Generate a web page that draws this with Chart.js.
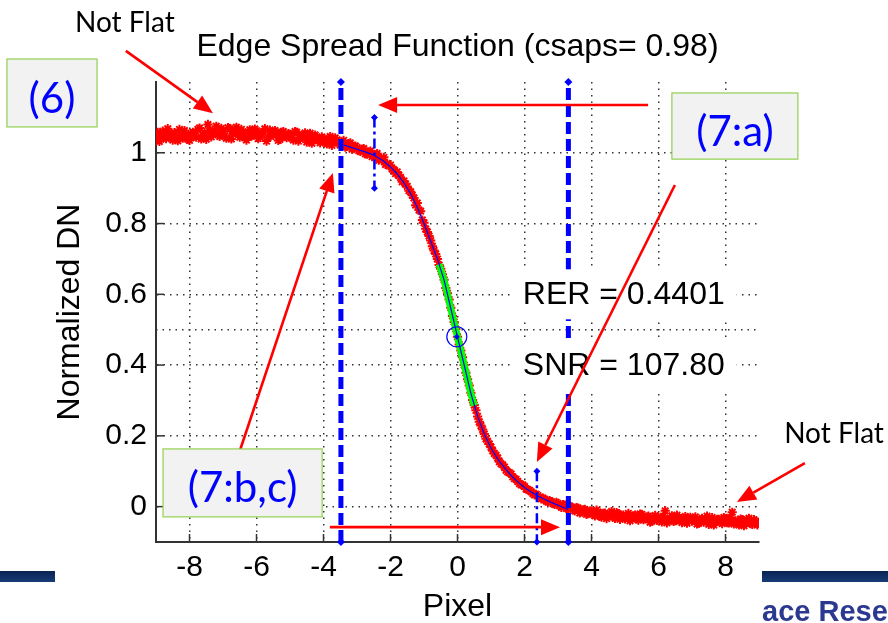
<!DOCTYPE html>
<html>
<head>
<meta charset="utf-8">
<title>Edge Spread Function</title>
<script src="https://cdn.jsdelivr.net/npm/chart.js@4.4.0/dist/chart.umd.min.js"></script>
<style>
  body { margin: 0; background: #fff; overflow: hidden; }
  #quadro { position: relative; width: 888px; height: 623px; }
  #grafico { display: block; }
  .faixa { position: absolute; top: 571px; height: 11px; background: linear-gradient(#0a2452, #173b75); }
  #rodape { position: absolute; left: 762px; top: 597px; width: 126px; overflow: hidden; white-space: nowrap;
            font: bold 29px 'Liberation Sans', Arial, sans-serif; line-height: 29px; color: #2b3990; }
</style>
</head>
<body>
<div id="quadro">
  <canvas id="grafico" width="888" height="623"></canvas>
  <div class="faixa" style="left:0;width:55px"></div>
  <div class="faixa" style="left:762px;width:126px"></div>
  <div id="rodape">ace Research</div>
</div>
<script>
// eixos
const xTicks = [-8, -6, -4, -2, 0, 2, 4, 6, 8];
const yTicks = [0, 0.2, 0.4, 0.6, 0.8, 1];
const xMin = -9, xMax = 9, yMin = -0.1, yMax = 1.2;

// pontos da ESF (duas linhas de amostras, passo 0.1)
const esfInicioA = -9, esfInicioB = -8.95, esfPasso = 0.1;
const esfA = [
  1.048, 1.032, 1.061, 1.040, 1.055, 1.036, 1.047, 1.066, 1.041, 1.052,
  1.035, 1.058, 1.044, 1.070, 1.049, 1.038, 1.062, 1.051, 1.075, 1.046,
  1.060, 1.041, 1.068, 1.053, 1.072, 1.044, 1.058, 1.036, 1.065, 1.050,
  1.062, 1.045, 1.057, 1.033, 1.064, 1.049, 1.055, 1.038, 1.060, 1.043,
  1.052, 1.036, 1.058, 1.041, 1.047, 1.030, 1.055, 1.038, 1.044, 1.028,
  1.040, 1.025, 1.046, 1.031, 1.037, 1.022, 1.035, 1.018, 1.028, 1.014,
  1.015, 1.004, 1.012, 0.996, 1.005, 0.992, 0.998, 0.984, 0.987, 0.970,
  0.965, 0.952, 0.946, 0.930, 0.920, 0.905, 0.890, 0.872, 0.858, 0.835,
  0.802, 0.776, 0.752, 0.724, 0.700, 0.672, 0.641, 0.603, 0.562, 0.522,
  0.480, 0.441, 0.400, 0.360, 0.322, 0.287, 0.255, 0.229, 0.205, 0.184,
  0.168, 0.150, 0.137, 0.121, 0.112, 0.098, 0.092, 0.079, 0.071, 0.062,
  0.057, 0.048, 0.042, 0.033, 0.031, 0.022, 0.021, 0.013, 0.014, 0.006,
  0.009, -0.002, 0.004, -0.006, -0.001, -0.012, -0.004, -0.015, -0.008, -0.020,
  -0.012, -0.026, -0.015, -0.030, -0.018, -0.028, -0.014, -0.033, -0.020, -0.027,
  -0.035, -0.019, -0.031, -0.024, -0.038, -0.022, -0.034, -0.027, -0.041, -0.025,
  -0.030, -0.043, -0.012, -0.037, -0.026, -0.040, -0.031, -0.045, -0.028, -0.036,
  -0.041, -0.029, -0.047, -0.033, -0.038, -0.050, -0.031, -0.044, -0.036, -0.048,
  -0.034, -0.046, -0.016, -0.040, -0.052, -0.037, -0.045, -0.033, -0.050, -0.041,
  -0.047
];
const esfB = [
  1.058, 1.039, 1.050, 1.068, 1.043, 1.057, 1.034, 1.049, 1.063, 1.038,
  1.054, 1.047, 1.066, 1.039, 1.057, 1.080, 1.045, 1.063, 1.052, 1.069,
  1.048, 1.071, 1.039, 1.062, 1.054, 1.066, 1.042, 1.059, 1.047, 1.067,
  1.040, 1.054, 1.068, 1.044, 1.052, 1.063, 1.035, 1.058, 1.046, 1.054,
  1.041, 1.060, 1.033, 1.049, 1.056, 1.039, 1.027, 1.050, 1.034, 1.045,
  1.030, 1.038, 1.021, 1.042, 1.027, 1.030, 1.016, 1.026, 1.010, 1.019,
  1.006, 1.010, 0.997, 1.002, 0.989, 0.994, 0.979, 0.980, 0.967, 0.963,
  0.954, 0.941, 0.936, 0.918, 0.911, 0.893, 0.880, 0.852, 0.838, 0.810,
  0.785, 0.765, 0.736, 0.714, 0.683, 0.657, 0.618, 0.585, 0.539, 0.502,
  0.458, 0.422, 0.378, 0.342, 0.301, 0.272, 0.240, 0.218, 0.192, 0.177,
  0.158, 0.145, 0.127, 0.118, 0.103, 0.096, 0.084, 0.077, 0.065, 0.061,
  0.050, 0.046, 0.037, 0.035, 0.026, 0.024, 0.016, 0.017, 0.009, 0.012,
  0.002, 0.006, -0.005, 0.001, -0.009, -0.003, -0.018, -0.009, -0.022, -0.013,
  -0.021, -0.010, -0.027, -0.019, -0.034, -0.022, -0.029, -0.017, -0.036, -0.024,
  -0.028, -0.040, -0.026, -0.035, -0.021, -0.037, -0.029, -0.044, -0.032, -0.039,
  -0.038, -0.027, -0.046, -0.033, -0.042, -0.024, -0.039, -0.034, -0.047, -0.030,
  -0.035, -0.049, -0.038, -0.044, -0.027, -0.042, -0.052, -0.036, -0.043, -0.031,
  -0.045, -0.031, -0.049, -0.044, -0.035, -0.054, -0.039, -0.048, -0.037, -0.052
];

// curva ajustada (csaps)
const ajusteX = [-3.4, -3.2, -3.0, -2.8, -2.6, -2.4, -2.2, -2.0, -1.8, -1.6, -1.4, -1.2, -1.0, -0.8, -0.6, -0.4, -0.2, 0,
                 0.2, 0.4, 0.6, 0.8, 1.0, 1.2, 1.4, 1.6, 1.8, 2.0, 2.2, 2.4, 2.6, 2.8, 3.0, 3.2, 3.3];
const ajusteY = [1.022, 1.016, 1.010, 1.004, 0.997, 0.988, 0.976, 0.960, 0.940, 0.915, 0.885, 0.845, 0.800, 0.750, 0.700, 0.640, 0.560, 0.480,
                 0.400, 0.320, 0.255, 0.205, 0.165, 0.135, 0.110, 0.088, 0.070, 0.054, 0.041, 0.030, 0.021, 0.012, 0.004, -0.004, -0.008];

// trecho verde (regiao usada no RER)
const verdeX = [-0.55, -0.4, -0.2, 0, 0.2, 0.4, 0.5];
const verdeY = [0.685, 0.64, 0.56, 0.48, 0.40, 0.32, 0.285];

// linhas verticais
const limitesX = [-3.48, 3.31];
const limitesY = [-0.1, 1.2];
const marcasX = [-2.48, 2.37];
const marcasTopo = [1.1, 0.1];
const marcasBase = [0.9, -0.1];
const centroX = [-0.02];
const centroY = [0.48];
const meioY = 0.5;

// textos e anotacoes (em unidades do grafico)
const estatTextos = ['RER = 0.4401', 'SNR = 107.80'];
const estatX = 1.95;
const estatY = [0.6, 0.4];

const caixaTextos = ['(6)', '(7:a)', '(7:b,c)'];
const caixaX0 = [-13.45, 6.40, -8.79];
const caixaX1 = [-10.76, 10.16, -4.04];
const caixaY0 = [1.265, 1.169, 0.163];
const caixaY1 = [1.073, 0.982, -0.029];

const notaTextos = ['Not Flat', 'Not Flat'];
const notaX = [-9.93, 11.24];
const notaY = [1.367, 0.205];

const setas = [
  [-9.90, 1.288, -7.30, 1.112],
  [5.69, 1.135, -2.37, 1.135],
  [-6.49, 0.160, -3.72, 0.943],
  [6.49, 0.909, 2.37, 0.126],
  [10.37, 0.123, 8.34, 0.013],
  [-3.81, -0.058, 3.06, -0.058]
];

function pontos(inicio, valores) {
  return valores.map((v, i) => ({ x: Math.round((inicio + esfPasso * i) * 100) / 100, y: v }));
}
function pares(xs, ys) {
  return xs.map((v, i) => ({ x: v, y: ys[i] }));
}

function seta(ctx, x1, y1, x2, y2) {
  const ang = Math.atan2(y2 - y1, x2 - x1);
  const comp = 19, larg = 8;
  const bx = x2 - comp * Math.cos(ang), by = y2 - comp * Math.sin(ang);
  ctx.strokeStyle = '#ff0000';
  ctx.fillStyle = '#ff0000';
  ctx.lineWidth = 2.6;
  ctx.beginPath(); ctx.moveTo(x1, y1); ctx.lineTo(bx, by); ctx.stroke();
  ctx.beginPath();
  ctx.moveTo(x2, y2);
  ctx.lineTo(bx + larg * Math.sin(ang), by - larg * Math.cos(ang));
  ctx.lineTo(bx - larg * Math.sin(ang), by + larg * Math.cos(ang));
  ctx.closePath(); ctx.fill();
}

const anotacoes = {
  id: 'anotacoes',
  afterDraw(chart) {
    const ctx = chart.ctx;
    const sx = chart.scales.x, sy = chart.scales.y;
    const px = v => sx.getPixelForValue(v);
    const py = v => sy.getPixelForValue(v);
    const area = chart.chartArea;
    ctx.save();
    ctx.setLineDash([]);

    // ticks para dentro (estilo MATLAB)
    ctx.strokeStyle = '#333';
    ctx.lineWidth = 1.5;
    xTicks.forEach(v => { ctx.beginPath(); ctx.moveTo(px(v), area.bottom); ctx.lineTo(px(v), area.bottom - 8); ctx.stroke(); });
    yTicks.forEach(v => { ctx.beginPath(); ctx.moveTo(area.left, py(v)); ctx.lineTo(area.left + 8, py(v)); ctx.stroke(); });

    // RER / SNR com fundo branco
    ctx.font = '32px "Liberation Sans", Arial, sans-serif';
    ctx.textBaseline = 'middle';
    ctx.textAlign = 'left';
    estatTextos.forEach((t, i) => {
      const w = ctx.measureText(t).width;
      const x0 = px(estatX), y0 = py(estatY[i]);
      ctx.fillStyle = '#fff';
      ctx.fillRect(x0 - 10, y0 - 25, w + 22, 50);
      ctx.fillStyle = '#000';
      ctx.fillText(t, x0, y0 + 1);
    });

    // setas vermelhas
    setas.forEach(s => seta(ctx, px(s[0]), py(s[1]), px(s[2]), py(s[3])));

    // caixas numeradas
    caixaTextos.forEach((t, i) => {
      const x0 = px(caixaX0[i]), x1 = px(caixaX1[i]);
      const y0 = py(caixaY0[i]), y1 = py(caixaY1[i]);
      ctx.fillStyle = '#f2f2f2';
      ctx.fillRect(x0, y0, x1 - x0, y1 - y0);
      ctx.strokeStyle = '#92d050';
      ctx.lineWidth = 1.2;
      ctx.strokeRect(x0, y0, x1 - x0, y1 - y0);
      ctx.fillStyle = '#0000ff';
      ctx.font = '42px Lato, "Open Sans", sans-serif';
      ctx.textAlign = 'center';
      ctx.fillText(t, (x0 + x1) / 2, (y0 + y1) / 2 + 6);
    });

    // "Not Flat"
    ctx.fillStyle = '#000';
    ctx.font = '28px Lato, "Open Sans", sans-serif';
    ctx.textAlign = 'center';
    notaTextos.forEach((t, i) => ctx.fillText(t, px(notaX[i]), py(notaY[i])));

    ctx.restore();
  }
};

const fonteEixo = { family: '"Liberation Sans", Arial, sans-serif', size: 30 };
const fonteTitulo = { family: '"Liberation Sans", Arial, sans-serif', size: 32, weight: 'normal' };

const datasets = [
  // limites grossos tracejados
  ...limitesX.map(v => ({
    data: pares([v, v], limitesY), showLine: true, borderColor: '#0000ff', borderWidth: 5, borderDash: [12, 5],
    pointStyle: 'rectRot', pointRadius: 4, pointBackgroundColor: '#0000ff', pointBorderWidth: 0, clip: false, order: 1
  })),
  // marcas finas traco-ponto
  ...marcasX.map((v, i) => ({
    data: pares([v, v], [marcasTopo[i], marcasBase[i]]), showLine: true, borderColor: '#0000ff', borderWidth: 2.5,
    borderDash: [10, 4, 3, 4], pointStyle: 'rectRot', pointRadius: 3.5, pointBackgroundColor: '#0000ff',
    pointBorderWidth: 0, clip: false, order: 1
  })),
  {
    data: pares(centroX, centroY), pointStyle: 'circle', pointRadius: 10, pointBackgroundColor: 'rgba(0,0,0,0)',
    pointBorderColor: '#0000ff', pointBorderWidth: 1.2, order: 2
  },
  {
    data: pares(centroX, centroY), pointStyle: 'rectRot', pointRadius: 3, pointBackgroundColor: '#0000ff',
    pointBorderWidth: 0, order: 2
  },
  {
    data: pares(ajusteX, ajusteY), showLine: true, borderColor: '#0000ff', borderWidth: 1.2, pointRadius: 0, order: 3
  },
  {
    data: pares(verdeX, verdeY), showLine: true, borderColor: '#00ff00', borderWidth: 7, pointRadius: 0, order: 4
  },
  {
    data: pontos(esfInicioA, esfA), pointStyle: 'star', pointRadius: 4.6, pointBorderColor: '#ff0000',
    pointBackgroundColor: '#ff0000', pointBorderWidth: 2, order: 5
  },
  {
    data: pontos(esfInicioB, esfB), pointStyle: 'star', pointRadius: 4.6, pointBorderColor: '#ff0000',
    pointBackgroundColor: '#ff0000', pointBorderWidth: 2, order: 5
  },
  {
    data: pares([xMin, xMax], [meioY, meioY]), showLine: true, borderColor: '#333', borderWidth: 1.5,
    borderDash: [1.5, 5], pointRadius: 0, order: 6
  }
];

new Chart(document.getElementById('grafico'), {
  type: 'scatter',
  data: { datasets: datasets },
  options: {
    responsive: false,
    animation: false,
    events: [],
    layout: { padding: { left: 0, right: 129, top: 0, bottom: 0 } },
    plugins: {
      legend: { display: false },
      tooltip: { enabled: false },
      title: {
        display: true, fullSize: false, text: 'Edge Spread Function (csaps= 0.98)', color: '#000',
        font: fonteTitulo, padding: { top: 28, bottom: 15.6 }
      }
    },
    scales: {
      x: {
        type: 'linear', min: xMin, max: xMax,
        afterBuildTicks: s => { s.ticks = xTicks.map(v => ({ value: v })); },
        afterFit: s => { s.height = 81; },
        grid: { color: '#333', lineWidth: 1.5, drawTicks: false },
        border: { color: '#333', width: 2, dash: [1.5, 5] },
        ticks: { color: '#000', font: fonteEixo, padding: 8, maxRotation: 0, callback: v => String(v) },
        title: { display: true, text: 'Pixel', color: '#000', font: fonteTitulo, padding: { top: 0, bottom: -3 } }
      },
      y: {
        type: 'linear', min: yMin, max: yMax,
        afterBuildTicks: s => { s.ticks = yTicks.map(v => ({ value: v })); },
        afterFit: s => { s.width = 156; },
        grid: { color: '#333', lineWidth: 1.5, drawTicks: false },
        border: { color: '#333', width: 2, dash: [1.5, 5] },
        ticks: { color: '#000', font: fonteEixo, padding: 9, callback: v => String(+v.toFixed(1)) },
        title: { display: true, text: 'Normalized DN', color: '#000', font: fonteTitulo, padding: { top: 51, bottom: 0 } }
      }
    }
  },
  plugins: [anotacoes]
});
</script>
</body>
</html>
